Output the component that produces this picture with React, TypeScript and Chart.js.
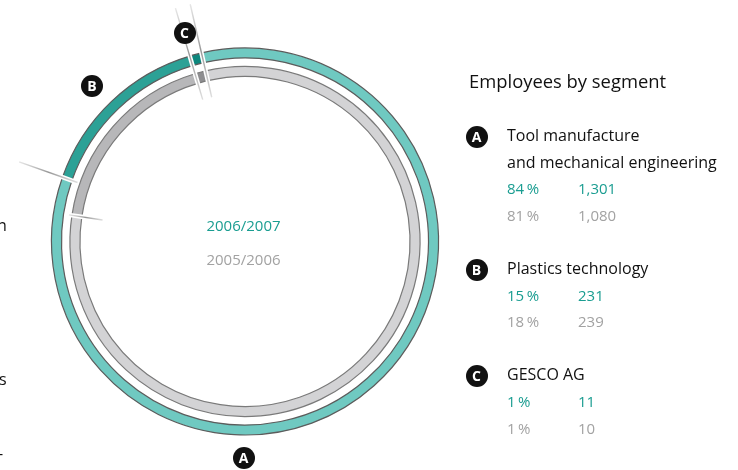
import React, { useEffect, useRef } from "react";
import { Chart, registerables } from "chart.js";

Chart.register(...registerables);

// ---- data ----
const segmentKeys = ["A", "B", "C"];
const segmentNames = [
  ["Tool manufacture", "and mechanical engineering"],
  ["Plastics technology"],
  ["GESCO AG"],
];
const years = ["2006/2007", "2005/2006"];
const share2007 = [84, 15, 1];
const share2006 = [81, 18, 1];
const employees2007 = [1301, 231, 11];
const employees2006 = [1080, 239, 10];
const title = "Employees by segment";

// ---- styles ----
const colors2007 = ["#6fc9c1", "#2ca196", "#0d877d"];
const colors2006 = ["#d3d3d5", "#b7b7b9", "#8e8e90"];
const tealText = "#1a9d91";
const grayText = "#a2a2a2";
const font = "'Open Sans', 'Noto Sans', sans-serif";

const fmt = (n: number) => n.toLocaleString("en-US");
const pct = (n: number) => `${n}\u2009%`;

const separatorPlugin = {
  id: "separators",
  afterDatasetsDraw(chart: any) {
    const ctx = chart.ctx as CanvasRenderingContext2D;
    const outer = chart.getDatasetMeta(0).data as any[];
    const inner = chart.getDatasetMeta(2).data as any[];
    if (!outer.length || !inner.length) return;
    const cx = outer[0].x;
    const cy = outer[0].y;
    const oIn = outer[0].innerRadius;
    const oOut = outer[0].outerRadius;
    const iIn = inner[0].innerRadius;
    const iOut = inner[0].outerRadius;
    const cuts = [
      { a: outer[0].endAngle, r0: oIn, r1: oOut, l0: oIn - 6, l1: oOut + 46 },
      { a: inner[0].endAngle, r0: iIn, r1: iOut, l0: iIn - 21, l1: iOut + 3 },
      { a: outer[2].startAngle, r0: iIn, r1: oOut, l0: iIn - 17, l1: oOut + 50 },
      { a: outer[2].endAngle, r0: iIn, r1: oOut, l0: iIn - 17, l1: oOut + 50 },
    ];
    ctx.save();
    ctx.lineCap = "butt";
    for (const c of cuts) {
      const cos = Math.cos(c.a);
      const sin = Math.sin(c.a);
      ctx.strokeStyle = "#ffffff";
      ctx.lineWidth = 4.5;
      ctx.beginPath();
      ctx.moveTo(cx + (c.r0 - 1.5) * cos, cy + (c.r0 - 1.5) * sin);
      ctx.lineTo(cx + (c.r1 + 1.5) * cos, cy + (c.r1 + 1.5) * sin);
      ctx.stroke();
      const x0 = cx + c.l0 * cos, y0 = cy + c.l0 * sin;
      const x1 = cx + c.l1 * cos, y1 = cy + c.l1 * sin;
      const g = ctx.createLinearGradient(x0, y0, x1, y1);
      g.addColorStop(0, "rgba(160,160,160,0.35)");
      g.addColorStop(0.5, "rgba(140,140,140,0.9)");
      g.addColorStop(1, "rgba(170,170,170,0.3)");
      ctx.strokeStyle = g;
      ctx.lineWidth = 1.4;
      ctx.beginPath();
      ctx.moveTo(x0, y0);
      ctx.lineTo(x1, y1);
      ctx.stroke();
    }
    ctx.restore();
  },
};

function Badge({ letter, x, y }: { letter: string; x: number; y: number }) {
  return (
    <div
      style={{
        position: "absolute",
        left: x - 11,
        top: y - 11,
        width: 22,
        height: 22,
        borderRadius: "50%",
        background: "#111",
        color: "#fff",
        fontFamily: font,
        fontWeight: 700,
        fontSize: 14,
        lineHeight: "22px",
        textAlign: "center",
      }}
    >
      {letter}
    </div>
  );
}

export default function App() {
  const canvasRef = useRef<HTMLCanvasElement | null>(null);

  useEffect(() => {
    if (!canvasRef.current) return;
    const chart = new Chart(canvasRef.current, {
      type: "doughnut",
      data: {
        labels: segmentKeys,
        datasets: [
          {
            label: years[0],
            data: share2007,
            backgroundColor: colors2007,
            borderColor: "#5c5c5c",
            borderWidth: 1.2,
            weight: 10,
          } as any,
          {
            label: "gap",
            data: [100],
            backgroundColor: "rgba(0,0,0,0)",
            borderWidth: 0,
            weight: 8.5,
          } as any,
          {
            label: years[1],
            data: share2006,
            backgroundColor: colors2006,
            borderColor: "#7a7a7a",
            borderWidth: 1.2,
            weight: 10,
          } as any,
        ],
      },
      options: {
        responsive: false,
        maintainAspectRatio: false,
        animation: false,
        rotation: -13,
        radius: 193.5,
        cutout: "85.3%",
        layout: { padding: { left: 51, top: 47.5, right: 299, bottom: 34.5 } },
        plugins: { legend: { display: false }, tooltip: { enabled: false } },
      } as any,
      plugins: [separatorPlugin],
    });
    return () => chart.destroy();
  }, []);

  const lineH = 26.6;
  const legendTop = 122;
  const rows: React.ReactNode[] = [];
  const badges: React.ReactNode[] = [];
  let line = 0;
  segmentKeys.forEach((k, i) => {
    badges.push(<Badge key={"lb" + k} letter={k} x={476.5} y={legendTop + line * lineH + 15} />);
    segmentNames[i].forEach((n, j) => {
      rows.push(
        <div key={`n${i}${j}`} style={{ position: "absolute", left: 507, top: legendTop + line * lineH, lineHeight: `${lineH}px`, fontSize: 16, color: "#111", whiteSpace: "nowrap" }}>
          {n}
        </div>
      );
      line++;
    });
    [
      { s: share2007[i], e: employees2007[i], c: tealText },
      { s: share2006[i], e: employees2006[i], c: grayText },
    ].forEach((r, j) => {
      const top = legendTop + line * lineH;
      rows.push(
        <div key={`p${i}${j}`} style={{ position: "absolute", left: 507, top, lineHeight: `${lineH}px`, fontSize: 15, color: r.c }}>
          {pct(r.s)}
        </div>
      );
      rows.push(
        <div key={`e${i}${j}`} style={{ position: "absolute", left: 578, top, lineHeight: `${lineH}px`, fontSize: 15, color: r.c }}>
          {fmt(r.e)}
        </div>
      );
      line++;
    });
    line++;
  });

  return (
    <div style={{ position: "fixed", left: 0, top: 0, width: 738, height: 470, background: "#fff", overflow: "hidden", fontFamily: font }}>
      <canvas ref={canvasRef} width={738} height={470} style={{ position: "absolute", left: 0, top: 0, width: 738, height: 470 }} />
      <div style={{ position: "absolute", left: 143.5, width: 200, top: 215, textAlign: "center", fontSize: 15, lineHeight: "20px", color: tealText }}>{years[0]}</div>
      <div style={{ position: "absolute", left: 143.5, width: 200, top: 249, textAlign: "center", fontSize: 15, lineHeight: "20px", color: grayText }}>{years[1]}</div>
      <Badge letter="C" x={184.5} y={32.5} />
      <Badge letter="B" x={92} y={86} />
      <Badge letter="A" x={243.5} y={458} />
      <div style={{ position: "absolute", left: -3, top: 213, fontSize: 16, lineHeight: "24px", color: "#111" }}>n</div>
      <div style={{ position: "absolute", left: -1, top: 367, fontSize: 16, lineHeight: "24px", color: "#111" }}>s</div>
      <div style={{ position: "absolute", left: -2, top: 441, fontSize: 16, lineHeight: "24px", color: "#111" }}>-</div>
      <div style={{ position: "absolute", left: 469, top: 69, fontSize: 18.4, lineHeight: "24px", color: "#111", whiteSpace: "nowrap" }}>{title}</div>
      {badges}
      {rows}
    </div>
  );
}
